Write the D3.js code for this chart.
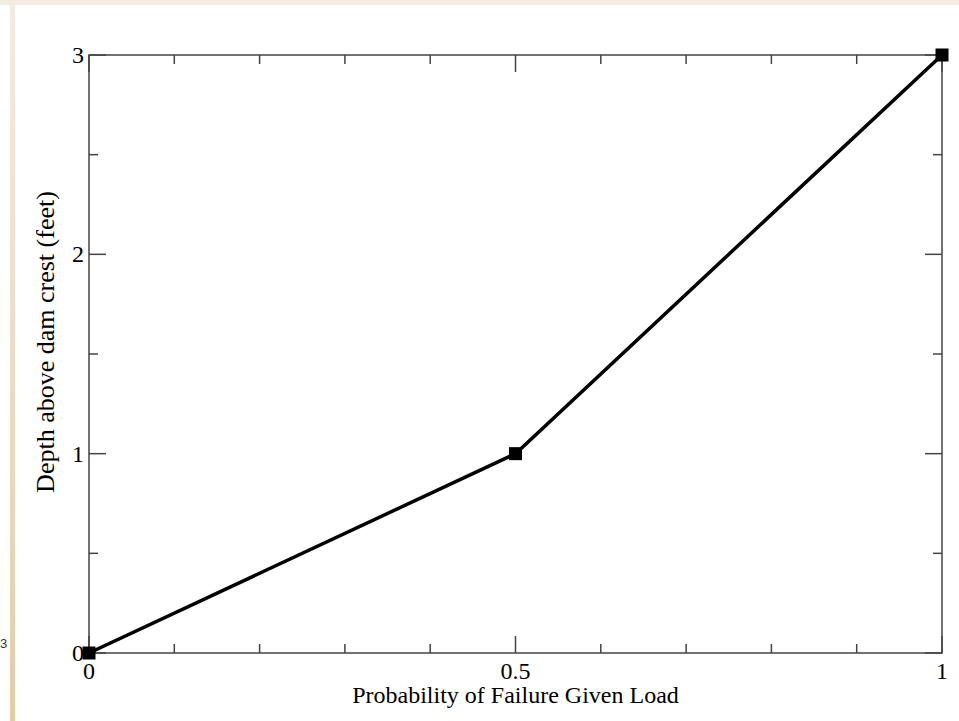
<!DOCTYPE html>
<html>
<head>
<meta charset="utf-8">
<script src="https://cdn.jsdelivr.net/npm/d3@7"></script>
<style>
body { margin: 0; background: #fff; }
svg { display: block; }
</style>
</head>
<body>
<div id="chart"></div>
<script>
// data
var probability = [0, 0.5, 1];
var depth = [0, 1, 3];
var xMajorTicks = [0, 0.5, 1];
var xMinorTicks = [0.1, 0.2, 0.3, 0.4, 0.6, 0.7, 0.8, 0.9];
var yMajorTicks = [0, 1, 2, 3];
var yMinorTicks = [0.5, 1.5, 2.5];

var width = 959, height = 721;
var padLeft = 89, padRight = 942, padTop = 55, padBottom = 653;

var svg = d3.select("#chart").append("svg")
	.attr("width", width)
	.attr("height", height);

// page decoration (beige band and strip)
var defs = svg.append("defs");
var grad = defs.append("linearGradient").attr("id", "strip").attr("x1", 0).attr("y1", 0).attr("x2", 0).attr("y2", 1);
grad.append("stop").attr("offset", "0%").attr("stop-color", "#f4ece1");
grad.append("stop").attr("offset", "100%").attr("stop-color", "#e6cca6");
svg.append("rect").attr("x", 0).attr("y", 0).attr("width", width).attr("height", 5).attr("fill", "#f4ece1");
svg.append("rect").attr("x", 10).attr("y", 0).attr("width", 5).attr("height", height).attr("fill", "url(#strip)");
svg.append("text").attr("x", 0).attr("y", 648)
	.attr("font-family", "Liberation Sans, Arial, sans-serif").attr("font-size", 13).attr("fill", "#333")
	.text("3");

var xscale = d3.scaleLinear().domain([0, 1]).range([padLeft, padRight]);
var yscale = d3.scaleLinear().domain([0, 3]).range([padBottom, padTop]);

var frameColor = "#444";
var ticks = svg.append("g").attr("stroke", frameColor).attr("stroke-width", 1.5);

function xTicks(values, len) {
	values.forEach(function(v) {
		ticks.append("line").attr("x1", xscale(v)).attr("x2", xscale(v)).attr("y1", padBottom).attr("y2", padBottom - len);
		ticks.append("line").attr("x1", xscale(v)).attr("x2", xscale(v)).attr("y1", padTop).attr("y2", padTop + len);
	});
}
function yTicks(values, len) {
	values.forEach(function(v) {
		ticks.append("line").attr("y1", yscale(v)).attr("y2", yscale(v)).attr("x1", padLeft).attr("x2", padLeft + len);
		ticks.append("line").attr("y1", yscale(v)).attr("y2", yscale(v)).attr("x1", padRight).attr("x2", padRight - len);
	});
}
xTicks(xMajorTicks, 17);
xTicks(xMinorTicks, 9);
yTicks(yMajorTicks, 17);
yTicks(yMinorTicks, 9);

svg.append("rect")
	.attr("x", padLeft).attr("y", padTop)
	.attr("width", padRight - padLeft).attr("height", padBottom - padTop)
	.attr("fill", "none").attr("stroke", frameColor).attr("stroke-width", 1.5);

var font = "Liberation Serif, Times New Roman, serif";
var fontSize = 24;

// tick labels
svg.selectAll("text.xlab").data(xMajorTicks).enter().append("text")
	.attr("class", "xlab")
	.attr("x", function(d) { return xscale(d); })
	.attr("y", padBottom + 26)
	.attr("text-anchor", "middle")
	.attr("font-family", font).attr("font-size", fontSize)
	.text(function(d) { return d; });

svg.selectAll("text.ylab").data(yMajorTicks).enter().append("text")
	.attr("class", "ylab")
	.attr("x", padLeft - 5)
	.attr("y", function(d) { return yscale(d) + 8; })
	.attr("text-anchor", "end")
	.attr("font-family", font).attr("font-size", fontSize)
	.text(function(d) { return d; });

// axis titles
svg.append("text")
	.attr("x", (padLeft + padRight) / 2)
	.attr("y", padBottom + 50)
	.attr("text-anchor", "middle")
	.attr("font-family", font).attr("font-size", fontSize)
	.text("Probability of Failure Given Load");
svg.append("text")
	.attr("transform", "translate(54," + ((padTop + padBottom) / 2 - 12) + ") rotate(-90)")
	.attr("text-anchor", "middle")
	.attr("font-family", font).attr("font-size", 26)
	.text("Depth above dam crest (feet)");

// series
var pts = probability.map(function(p, i) { return [p, depth[i]]; });
var line = d3.line().x(function(d) { return xscale(d[0]); }).y(function(d) { return yscale(d[1]); });
svg.append("path").datum(pts)
	.attr("d", line)
	.attr("fill", "none").attr("stroke", "#000").attr("stroke-width", 3.5);

var sq = 13;
svg.selectAll("rect.marker").data(pts).enter().append("rect")
	.attr("class", "marker")
	.attr("x", function(d) { return xscale(d[0]) - sq / 2; })
	.attr("y", function(d) { return yscale(d[1]) - sq / 2; })
	.attr("width", sq).attr("height", sq)
	.attr("fill", "#000");
</script>
</body>
</html>
